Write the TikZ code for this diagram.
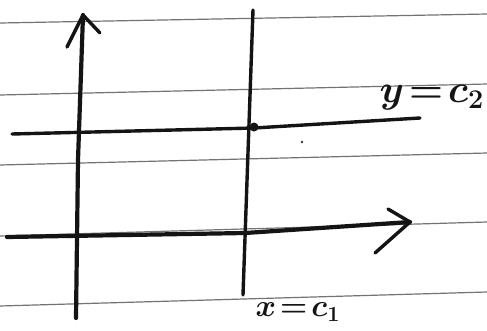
\documentclass[tikz,border=0pt]{standalone}
\usetikzlibrary{calc}
\begin{document}
\begin{tikzpicture}[x=1pt,y=-1pt,
  ruled/.style={draw=black!55,line width=1.2pt},
  pen/.style={draw=black!92,line width=4.2pt,line cap=round,line join=round},
  penthin/.style={draw=black!92,line width=3.4pt,line cap=round,line join=round},
  lbl/.style={font=\LARGE\boldmath,scale=1.8,inner sep=0pt,text=black!92}]
\useasboundingbox[fill=white] (0,0) rectangle (487,330);
% ruled paper
\coordinate (r1a) at (0,23);  \coordinate (r1b) at (487,14);
\coordinate (r2a) at (0,95);  \coordinate (r2b) at (487,84);
\coordinate (r3a) at (0,165); \coordinate (r3b) at (487,153);
\coordinate (r4a) at (0,236); \coordinate (r4b) at (487,222);
\coordinate (r5a) at (0,306); \coordinate (r5b) at (487,292);
\foreach \i in {1,...,5} \draw[ruled] (r\i a) -- (r\i b);
% y-axis
\coordinate (yb) at (76,318);
\coordinate (yt) at (83,15);
\coordinate (yl) at (67,47);
\coordinate (yr) at (100,33);
\draw[pen] (yb) -- (78,160) -- (yt);
\draw[penthin] (yl) -- (yt) -- (yr);
% x-axis
\coordinate (xl) at (7,237);
\coordinate (xt) at (410,222);
\coordinate (xu) at (388,209);
\coordinate (xd) at (375,253);
\draw[pen] (xl) -- (245,233) -- (xt);
\draw[penthin] (xu) -- (xt) -- (xd);
% x = c1
\coordinate (v1) at (253,10);
\coordinate (v2) at (243,295);
\draw[penthin] (v1) -- (v2);
% y = c2
\coordinate (h1) at (12,134);
\coordinate (h2) at (420,118);
\draw[penthin] (h1) -- (254,128) -- (h2);
% intersection dot and stray mark
\coordinate (P) at (254,127);
\fill[black!92] (P) circle (4.5);
\coordinate (s) at (302,142);
\fill[black!80] (s) circle (1.3);
% labels
\node[lbl,scale=1.25] (ly) at (432,98) {$y\!=\!c_2$};
\node[lbl] (lx) at (298,312) {$x\!=\!c_1$};
\end{tikzpicture}
\end{document}
